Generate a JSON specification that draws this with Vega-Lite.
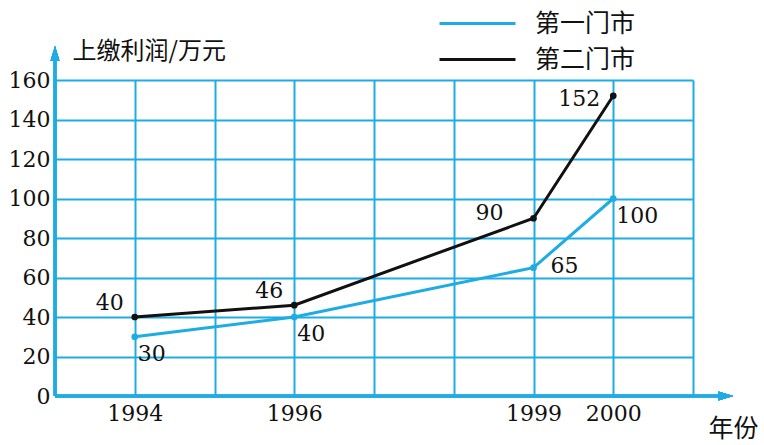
{
  "$schema": "https://vega.github.io/schema/vega-lite/v6.json",
  "width": 638,
  "height": 316,
  "autosize": {"type": "none"},
  "padding": {"left": 55, "top": 80, "right": 71, "bottom": 49},
  "background": "white",
  "config": {"view": {"stroke": null}},
  "data": {
    "values": [
      {"year": 1994, "series": "第一门市", "value": 30},
      {"year": 1996, "series": "第一门市", "value": 40},
      {"year": 1999, "series": "第一门市", "value": 65},
      {"year": 2000, "series": "第一门市", "value": 100},
      {"year": 1994, "series": "第二门市", "value": 40},
      {"year": 1996, "series": "第二门市", "value": 46},
      {"year": 1999, "series": "第二门市", "value": 90},
      {"year": 2000, "series": "第二门市", "value": 152}
    ]
  },
  "encoding": {
    "x": {
      "field": "year",
      "type": "quantitative",
      "scale": {"domain": [1993, 2001], "nice": false, "zero": false},
      "axis": {
        "values": [1993, 1994, 1995, 1996, 1997, 1998, 1999, 2000, 2001],
        "format": "d",
        "labelExpr": "indexof([1994,1996,1999,2000], datum.value) >= 0 ? datum.label : ''",
        "domain": false,
        "ticks": false,
        "grid": true,
        "gridColor": "#1fabe3",
        "gridWidth": 2,
        "gridOpacity": 1,
        "labelFont": "DejaVu Serif",
        "labelFontSize": 22,
        "labelColor": "#111111",
        "labelPadding": 7,
        "labelFlush": false,
        "labelOverlap": false,
        "title": "年份",
        "titleFont": "Noto Sans CJK SC",
        "titleFontSize": 25,
        "titleFontWeight": "normal",
        "titleColor": "#111111",
        "titleX": 678,
        "titleY": 32,
        "titleAlign": "center",
        "titleBaseline": "middle"
      }
    },
    "y": {
      "field": "value",
      "type": "quantitative",
      "scale": {"domain": [0, 160], "nice": false, "zero": true},
      "axis": {
        "values": [0, 20, 40, 60, 80, 100, 120, 140, 160],
        "domain": false,
        "ticks": false,
        "grid": true,
        "gridColor": "#1fabe3",
        "gridWidth": 2,
        "gridOpacity": 1,
        "labelFont": "DejaVu Serif",
        "labelFontSize": 22,
        "labelColor": "#111111",
        "labelPadding": 5,
        "labelFlush": false,
        "title": "上缴利润/万元",
        "titleAngle": 0,
        "titleAlign": "left",
        "titleBaseline": "middle",
        "titleX": 17,
        "titleY": -29,
        "titleFont": "Noto Sans CJK SC",
        "titleFontSize": 24,
        "titleFontWeight": "normal",
        "titleColor": "#111111"
      }
    }
  },
  "layer": [
    {
      "mark": {"type": "rule", "color": "#1fabe3", "strokeWidth": 2.5},
      "encoding": {"x": {"datum": 1993}, "y": {"datum": 0}, "y2": {"datum": 172}}
    },
    {
      "mark": {"type": "point", "shape": "M0,-2L0.9,1L-0.9,1Z", "filled": true, "size": 100, "color": "#1fabe3", "opacity": 1},
      "encoding": {"x": {"datum": 1993}, "y": {"datum": 172.2}}
    },
    {
      "mark": {"type": "rule", "color": "#1fabe3", "strokeWidth": 2.5},
      "encoding": {"x": {"datum": 1993}, "x2": {"datum": 2001.38}, "y": {"datum": 0}}
    },
    {
      "mark": {"type": "point", "shape": "M2,0L-1,0.9L-1,-0.9Z", "filled": true, "size": 100, "color": "#1fabe3", "opacity": 1},
      "encoding": {"x": {"datum": 2001.38}, "y": {"datum": 0}}
    },
    {
      "mark": {"type": "line", "strokeWidth": 3},
      "encoding": {
        "color": {
          "field": "series",
          "type": "nominal",
          "scale": {"domain": ["第一门市", "第二门市"], "range": ["#1fabe3", "#111111"]},
          "legend": {
            "orient": "none",
            "legendX": 410,
            "legendY": -69,
            "title": null,
            "symbolType": "M-4,0H4",
            "symbolSize": 361,
            "symbolStrokeWidth": 3,
            "labelFont": "Noto Sans CJK SC",
            "labelFontSize": 25,
            "labelColor": "#111111",
            "labelOffset": 45,
            "rowPadding": 10,
            "padding": 0
          }
        }
      }
    },
    {
      "mark": {"type": "point", "filled": true, "size": 45, "opacity": 1},
      "encoding": {
        "color": {"field": "series", "type": "nominal", "legend": null}
      }
    },
    {
      "transform": [{"filter": "datum.series == '第二门市' && (datum.year == 1994 || datum.year == 1996)"}],
      "mark": {"type": "text", "font": "DejaVu Serif", "fontSize": 22, "align": "right", "baseline": "middle", "dx": -11, "dy": -14, "color": "#111111"},
      "encoding": {"text": {"field": "value"}}
    },
    {
      "transform": [{"filter": "datum.series == '第二门市' && datum.year == 1999"}],
      "mark": {"type": "text", "font": "DejaVu Serif", "fontSize": 22, "align": "right", "baseline": "middle", "dx": -30, "dy": -5, "color": "#111111"},
      "encoding": {"text": {"field": "value"}}
    },
    {
      "transform": [{"filter": "datum.series == '第二门市' && datum.year == 2000"}],
      "mark": {"type": "text", "font": "DejaVu Serif", "fontSize": 22, "align": "right", "baseline": "middle", "dx": -13, "dy": 3, "color": "#111111"},
      "encoding": {"text": {"field": "value"}}
    },
    {
      "transform": [{"filter": "datum.series == '第一门市' && datum.year != 1999"}],
      "mark": {"type": "text", "font": "DejaVu Serif", "fontSize": 22, "align": "left", "baseline": "middle", "dx": 3, "dy": 17, "color": "#111111"},
      "encoding": {"text": {"field": "value"}}
    },
    {
      "transform": [{"filter": "datum.series == '第一门市' && datum.year == 1999"}],
      "mark": {"type": "text", "font": "DejaVu Serif", "fontSize": 22, "align": "left", "baseline": "middle", "dx": 17, "dy": -2, "color": "#111111"},
      "encoding": {"text": {"field": "value"}}
    }
  ]
}
